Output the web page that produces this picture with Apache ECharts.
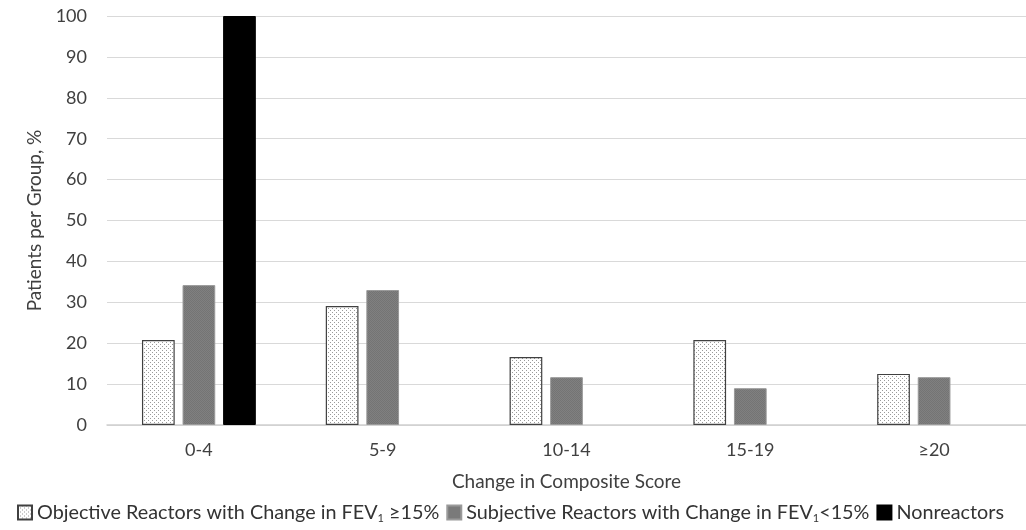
<!DOCTYPE html>
<html><head><meta charset="utf-8">
<script src="https://cdn.jsdelivr.net/npm/echarts@6/dist/echarts.min.js"></script>
<style>html,body{margin:0;padding:0;background:#fff}#c{width:1026px;height:530px}</style>
</head><body><div id="c"></div>
<script>
const categories = ['0-4', '5-9', '10-14', '15-19', '≥20'];
const objective = [20.8, 29.1, 16.6, 20.8, 12.5];
const subjective = [34.2, 33.0, 11.7, 9.0, 11.7];
const nonreactors = [100, null, null, null, null];
const yTicks = [0, 10, 20, 30, 40, 50, 60, 70, 80, 90, 100];

function dotPattern() {
  const c = document.createElement('canvas');
  c.width = 4; c.height = 4;
  const g = c.getContext('2d');
  g.fillStyle = '#ffffff'; g.fillRect(0, 0, 4, 4);
  g.fillStyle = '#9a9a9a';
  g.fillRect(0, 0, 1, 1); g.fillRect(2, 2, 1, 1);
  return { image: c, repeat: 'repeat' };
}
function greyPattern() {
  const c = document.createElement('canvas');
  c.width = 2; c.height = 2;
  const g = c.getContext('2d');
  g.fillStyle = '#808080'; g.fillRect(0, 0, 2, 2);
  g.fillStyle = '#747474'; g.fillRect(0, 0, 1, 1); g.fillRect(1, 1, 1, 1);
  return { image: c, repeat: 'repeat' };
}
const FONT = 'Lato, "Open Sans", sans-serif';
const chart = echarts.init(document.getElementById('c'));
chart.setOption({
  animation: false,
  grid: { left: 107, width: 925, top: 16, height: 409 },
  legend: {
    left: 12, bottom: 1, itemWidth: 14, itemHeight: 14, itemGap: 7, icon: 'rect',
    textStyle: { fontFamily: FONT, fontSize: 19.8, color: '#333',
      rich: { sub: { fontFamily: FONT, fontSize: 11, color: '#333', verticalAlign: 'bottom', padding: [12, 0, 0, 0] } } },
    formatter: function (n) {
      if (n.indexOf('Objective') === 0) return 'Objective Reactors with Change in FEV{sub|1} ≥15%';
      if (n.indexOf('Subjective') === 0) return 'Subjective Reactors with Change in FEV{sub|1}<15%';
      return n;
    },
    data: ['Objective Reactors with Change in FEV1 ≥15%', 'Subjective Reactors with Change in FEV1<15%', 'Nonreactors']
  },
  xAxis: {
    type: 'category', data: categories,
    name: 'Change in Composite Score', nameLocation: 'middle', nameGap: 47,
    nameTextStyle: { fontFamily: FONT, fontSize: 19, color: '#404040', padding: [0, 0, 0, 0] },
    axisTick: { show: false },
    axisLine: { lineStyle: { color: '#d0d0d0', width: 1.5 } },
    axisLabel: { fontFamily: FONT, fontSize: 18, color: '#404040', margin: 16 }
  },
  yAxis: {
    type: 'value', min: 0, max: 100, interval: 10,
    name: 'Patients per Group, %', nameLocation: 'middle', nameGap: 62,
    nameTextStyle: { fontFamily: FONT, fontSize: 19, color: '#404040' },
    axisLine: { show: false }, axisTick: { show: false },
    splitLine: { lineStyle: { color: '#d9d9d9', width: 1.2 } },
    axisLabel: { fontFamily: FONT, fontSize: 18, color: '#404040', margin: 20,
      formatter: v => yTicks.indexOf(v) >= 0 ? String(v) : '' }
  },
  series: [
    { name: 'Objective Reactors with Change in FEV1 ≥15%', type: 'bar', data: objective,
      barWidth: '17.8%', barGap: '24%',
      itemStyle: { color: dotPattern(), borderColor: '#404040', borderWidth: 1.2 } },
    { name: 'Subjective Reactors with Change in FEV1<15%', type: 'bar', data: subjective,
      barWidth: '17.8%', barGap: '24%',
      itemStyle: { color: greyPattern(), borderColor: '#9a9a9a', borderWidth: 1 } },
    { name: 'Nonreactors', type: 'bar', data: nonreactors,
      barWidth: '17.8%', barGap: '24%',
      itemStyle: { color: '#000', borderColor: '#000', borderWidth: 1 } }
  ]
});
</script></body></html>
